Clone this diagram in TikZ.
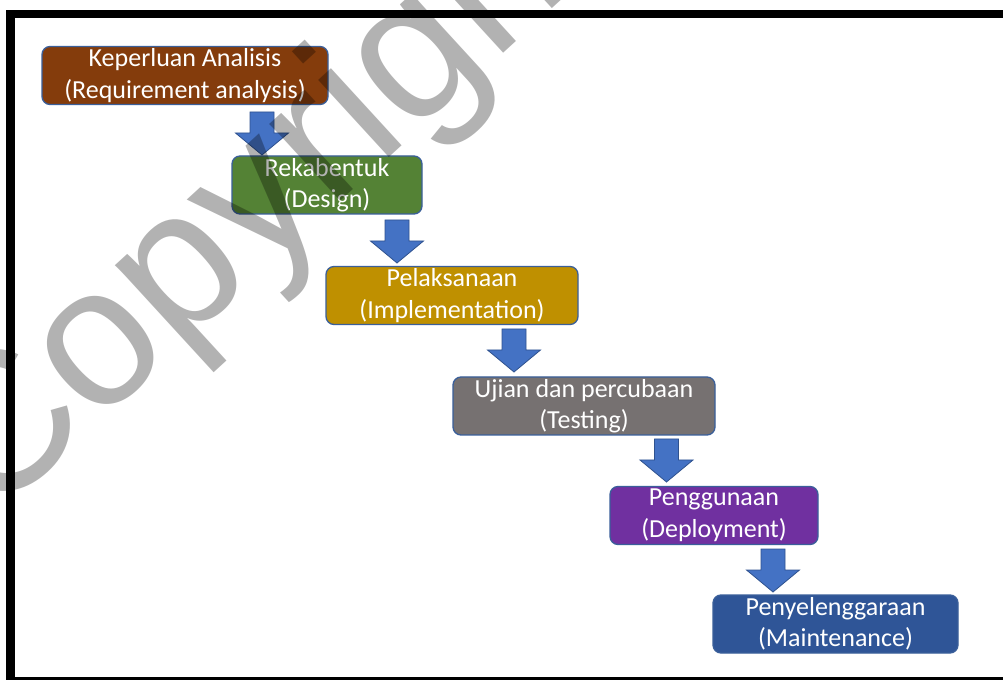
\documentclass[tikz,border=0pt]{standalone}
\usepackage{fontspec}
\setmainfont{Carlito}
\newfontfamily\wmfont{Liberation Sans}
\definecolor{cBrown}{HTML}{843C0C}
\definecolor{cGreen}{HTML}{548235}
\definecolor{cGold}{HTML}{BF9000}
\definecolor{cGrey}{HTML}{767171}
\definecolor{cPurple}{HTML}{7030A0}
\definecolor{cNavy}{HTML}{2F5597}
\definecolor{cLine}{HTML}{3A5F9A}
\definecolor{cArrow}{HTML}{4472C4}
\definecolor{cArrowLine}{HTML}{2F528F}
\tikzset{
  box/.style={draw=cLine, line width=1.3pt, rounded corners=8pt, text=white,
    align=center, font=\fontsize{26}{31.5}\selectfont, inner sep=0pt, minimum height=58pt},
  downarrow/.pic={\filldraw[fill=cArrow, draw=cArrowLine, line width=0.8pt, line join=miter]
    (-12,0) -- (12,0) -- (12,-21) -- (26.5,-21) -- (0,-43) -- (-26.5,-21) -- (-12,-21) -- cycle;},
  frameline/.style={fill=black},
  watermark/.style={text=black, text opacity=0.3, inner sep=0pt, font=\wmfont\fontsize{198}{220}\selectfont}
}
\begin{document}
\begin{tikzpicture}[x=1pt,y=1pt]
\useasboundingbox (0,0) rectangle (1003,680);
\fill[white] (0,0) rectangle (1003,680);
% frame
\fill[frameline] (6,0) rectangle (15,670);
\fill[frameline] (6,662) rectangle (1003,670);
\fill[frameline] (6,0) rectangle (1003,3);
% boxes
\node[box, fill=cBrown, minimum width=286pt] (req) at (185,604.5) {Keperluan Analisis\\(Requirement analysis)};
\node[box, fill=cGreen, minimum width=190pt] (des) at (327,495) {Rekabentuk\\(Design)};
\node[box, fill=cGold, minimum width=252pt] (imp) at (452,384.5) {Pelaksanaan\\(Implementation)};
\node[box, fill=cGrey, minimum width=262pt] (tes) at (584,274) {Ujian dan percubaan\\(Testing)};
\node[box, fill=cPurple, minimum width=208pt] (dep) at (714,164.5) {Penggunaan\\(Deployment)};
\node[box, fill=cNavy, minimum width=245pt] (mai) at (835.5,56) {Penyelenggaraan\\(Maintenance)};
% arrows
\coordinate (a1) at (262,568);
\coordinate (a2) at (397,460);
\coordinate (a3) at (514,351);
\coordinate (a4) at (666.5,241);
\coordinate (a5) at (773,131);
\pic at (a1) {downarrow};
\pic at (a2) {downarrow};
\pic at (a3) {downarrow};
\pic at (a4) {downarrow};
\pic at (a5) {downarrow};
% watermark
\begin{scope}
\clip (0,0) rectangle (1003,680);
\node[watermark, rotate=42.5, anchor=base west] (wm) at (-10,157) {Copyright};
\end{scope}
\end{tikzpicture}
\end{document}
